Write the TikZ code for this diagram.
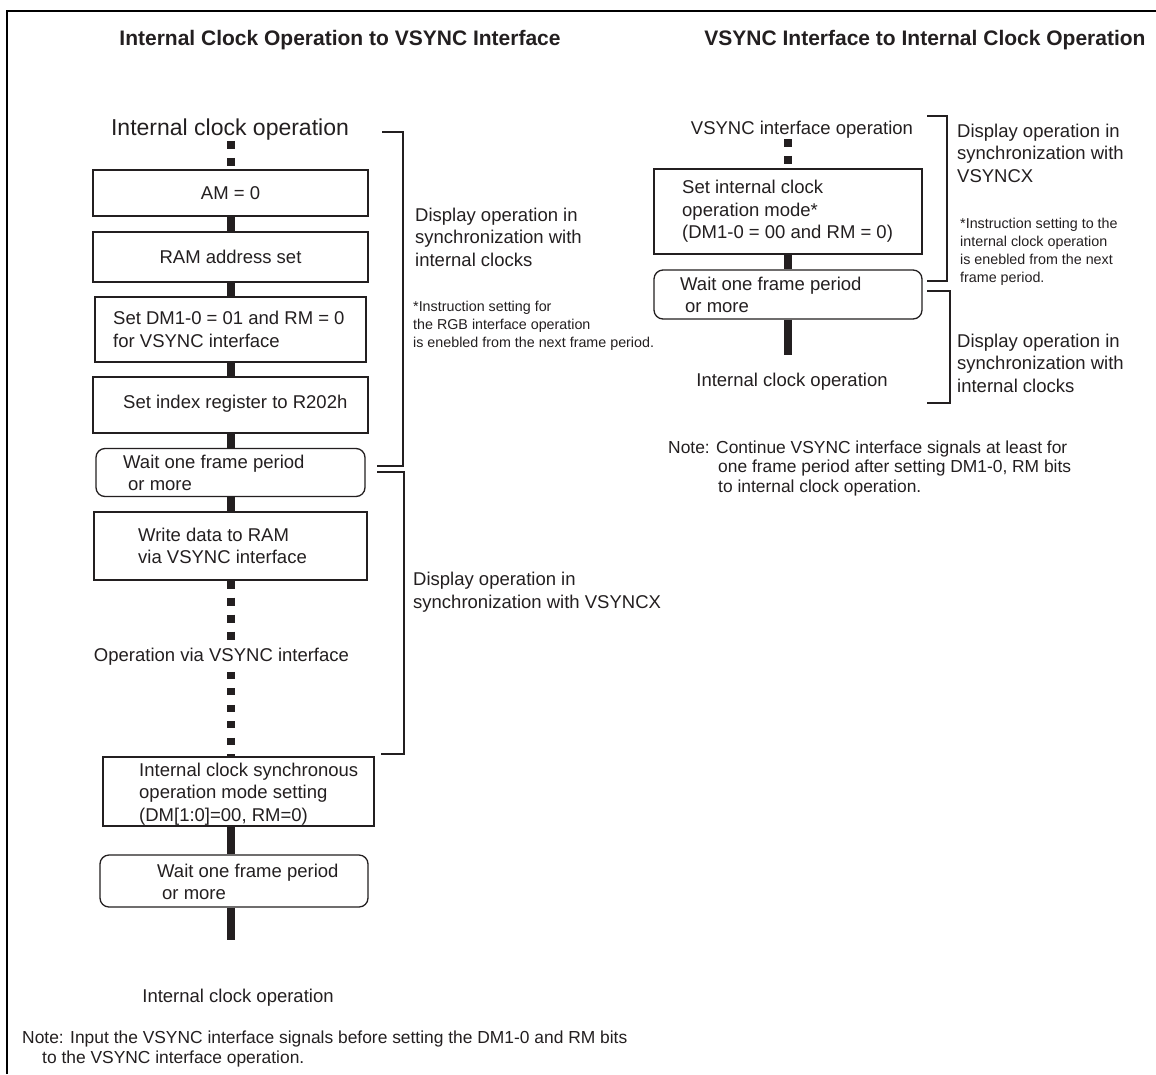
\documentclass[tikz,border=0pt]{standalone}
\usepackage{fontspec}
\setmainfont{Liberation Sans}
\definecolor{ink}{HTML}{231F20}
\begin{document}
\begin{tikzpicture}[x=1pt,y=-1pt,
  conn/.style={draw=ink,line width=8pt},
  dconn/.style={draw=ink,line width=8pt,dash pattern=on 8pt off 9pt},
  box/.style={draw=ink,line width=1.3pt,rectangle,inner sep=0pt,text=ink,
    font=\fontsize{18.5}{22}\selectfont},
  rbox/.style={box,rounded corners=9pt},
  txt/.style={text=ink,inner sep=0pt,align=left,font=\fontsize{18.5}{22.5}\selectfont},
  small/.style={text=ink,inner sep=0pt,align=left,font=\fontsize{14.3}{18}\selectfont},
  notetxt/.style={text=ink,inner sep=0pt,align=left,font=\fontsize{17.4}{19.5}\selectfont},
  ttl/.style={text=ink,inner sep=0pt,font=\fontsize{21}{24}\selectfont\bfseries},
  brk/.style={draw=ink,line width=1.3pt},
  frame/.style={draw=black,line width=2.5pt}]
\useasboundingbox (0,0) rectangle (1156,1074);
\fill[white] (0,0) rectangle (1156,1074);
% frame
\draw[frame] (7,1074) -- (7,11) -- (1156,11);
% titles
\node[ttl] (t1) at (340,40) {Internal Clock Operation to VSYNC Interface};
\node[ttl] (t2) at (925,40) {VSYNC Interface to Internal Clock Operation};

% ---------- left column ----------
\coordinate (colL) at (231,0);
\node[txt,font=\fontsize{23}{26}\selectfont] (start) at (230,130) {Internal clock operation};
\node[box,minimum width=275,minimum height=46] (am) at (230.5,193) {AM = 0};
\node[box,minimum width=275,minimum height=50] (ram) at (230.5,257) {RAM address set};
\node[box,minimum width=271,minimum height=65] (dm) at (230.5,329.5) {};
\node[txt,anchor=west] (dmt) at (113,329.5) {Set DM1-0 = 01 and RM = 0\\for VSYNC interface};
\node[box,minimum width=275,minimum height=56] (idx) at (230.5,405) {};
\node[txt,anchor=west] (idxt) at (123,404) {Set index register to R202h};
\node[rbox,minimum width=269,minimum height=48] (w1) at (230.5,472.5) {};
\node[txt,anchor=west] (w1t) at (123,473) {Wait one frame period\\\hspace*{5pt}or more};
\node[box,minimum width=273,minimum height=68] (wr) at (230.5,546) {};
\node[txt,anchor=west] (wrt) at (138,546) {Write data to RAM\\via VSYNC interface};
\node[txt,inner ysep=6pt] (op) at (221.5,657) {Operation via VSYNC interface};
\node[box,minimum width=271,minimum height=69] (sync) at (238.5,791.5) {};
\node[txt,anchor=west] (synct) at (139,794) {Internal clock synchronous\\operation mode setting\\(DM[1:0]=00, RM=0)};
\node[rbox,minimum width=268,minimum height=52] (w2) at (234,881) {};
\node[txt,anchor=west] (w2t) at (157,882) {Wait one frame period\\\hspace*{5pt}or more};
\coordinate (endL) at (231,940);
\node[txt] (fin) at (238,998) {Internal clock operation};

\draw[dconn] (start.south -| colL) -- (am.north -| colL);
\draw[conn] (am.south -| colL) -- (ram.north -| colL);
\draw[conn] (ram.south -| colL) -- (dm.north -| colL);
\draw[conn] (dm.south -| colL) -- (idx.north -| colL);
\draw[conn] (idx.south -| colL) -- (w1.north -| colL);
\draw[conn] (w1.south -| colL) -- (wr.north -| colL);
\draw[dconn] (wr.south -| colL) -- (op.north -| colL);
\draw[line width=8pt,draw=ink,dash pattern=on 7pt off 9.5pt] (op.south -| colL) -- (sync.north -| colL);
\draw[conn] (sync.south -| colL) -- (w2.north -| colL);
\draw[conn] (w2.south -| colL) -- (endL);

% left brackets and labels
\draw[brk] (382,132) -- (403,132) -- (403,466) -- (377,466);
\draw[brk] (377,472) -- (404,472) -- (404,754) -- (381,754);
\node[txt,anchor=west] (l1) at (415,237) {Display operation in\\synchronization with\\internal clocks};
\node[small,anchor=west] (l1n) at (413,326) {*Instruction setting for\\the RGB interface operation\\is enebled from the next frame period.};
\node[txt,anchor=west] (l2) at (413,592) {Display operation in\\synchronization with VSYNCX};
\node[notetxt,anchor=west] (ln) at (22,1049) {Note: Input the VSYNC interface signals before setting the DM1-0 and RM bits\\\hspace*{20pt}to the VSYNC interface operation.};

% ---------- right column ----------
\coordinate (colR) at (788,0);
\node[txt] (rstart) at (802,130) {VSYNC interface operation};
\node[box,minimum width=268,minimum height=85] (rset) at (788,211.5) {};
\node[txt,anchor=west] (rsett) at (682,211.5) {Set internal clock\\operation mode*\\(DM1-0 = 00 and RM = 0)};
\node[rbox,minimum width=268,minimum height=49] (rw) at (788,294.5) {};
\node[txt,anchor=west] (rwt) at (680,295) {Wait one frame period\\\hspace*{5pt}or more};
\coordinate (endR) at (788,355);
\node[txt] (rfin) at (792,382) {Internal clock operation};

\draw[dconn] (rstart.south -| colR) -- (rset.north -| colR);
\draw[conn] (rset.south -| colR) -- (rw.north -| colR);
\draw[conn] (rw.south -| colR) -- (endR);

\draw[brk] (927,116) -- (947,116) -- (947,281) -- (927,281);
\draw[brk] (927,291) -- (950,291) -- (950,403) -- (927,403);
\node[txt,anchor=west] (r1) at (957,153) {Display operation in\\synchronization with\\VSYNCX};
\node[small,anchor=west] (r1n) at (960,251.5) {*Instruction setting to the\\internal clock operation\\is enebled from the next\\frame period.};
\node[txt,anchor=west] (r2) at (957,363) {Display operation in\\synchronization with\\internal clocks};
\node[notetxt,anchor=west] (rn) at (668,468) {Note: Continue VSYNC interface signals at least for\\\hspace*{50pt}one frame period after setting DM1-0, RM bits\\\hspace*{50pt}to internal clock operation.};
\end{tikzpicture}
\end{document}
